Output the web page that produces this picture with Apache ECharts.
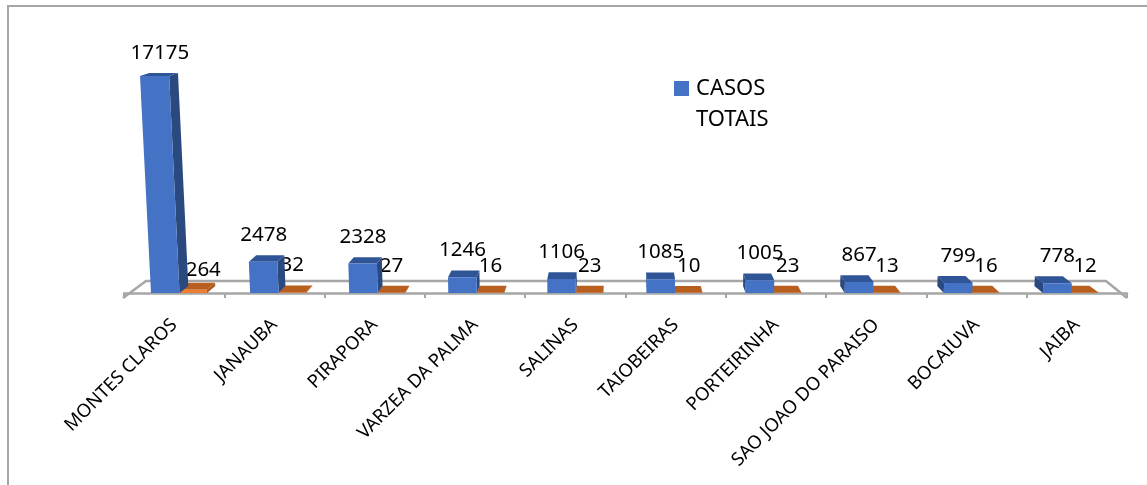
<!DOCTYPE html>
<html>
<head>
<meta charset="utf-8">
<style>
  html, body { margin: 0; padding: 0; background: #fff; }
  #main { width: 1147px; height: 485px; }
</style>
<script src="https://cdn.jsdelivr.net/npm/echarts@6/dist/echarts.min.js"></script>
</head>
<body>
<div id="main"></div>
<script>
var cidades = ['MONTES CLAROS', 'JANAUBA', 'PIRAPORA', 'VARZEA DA PALMA', 'SALINAS',
  'TAIOBEIRAS', 'PORTEIRINHA', 'SAO JOAO DO PARAISO', 'BOCAIUVA', 'JAIBA'];
var casosTotais = [17175, 2478, 2328, 1246, 1106, 1085, 1005, 867, 799, 778];
var segundaSerie = [264, 32, 27, 16, 23, 10, 23, 13, 16, 12];

var fonte = '"Noto Sans", sans-serif';
// ponto de fuga do falso 3D
var fugaX = 620;
var profundidade = 7;

function caixa(api, largura, lado, cores) {
  var topo = api.coord([api.value(0), api.value(1)]);
  var base = api.coord([api.value(0), 0]);
  var centro = fugaX + (base[0] - fugaX) * 0.988;
  var x0 = lado < 0 ? centro - largura : centro;
  var x1 = x0 + largura;
  var h = base[1] - topo[1];
  var y0 = base[1];
  var y1 = topo[1];
  // quanto mais alta a barra, mais ela abre para fora
  var l0 = (x0 - fugaX) * h * 0.000108;
  var l1 = (x1 - fugaX) * h * 0.000108;
  var dy = profundidade - h * 4 / 217;
  var dx0 = (fugaX - x0) * 0.02;
  var dx1 = (fugaX - x1) * 0.02;
  var filhos = [];
  // lateral
  if (dx0 + dx1 > 0) {
    filhos.push({ type: 'polygon', shape: { points: [[x1, y0], [x1 + dx1, y0 - profundidade], [x1 + l1 + dx1, y1 - dy], [x1 + l1, y1]] }, style: { fill: cores.lado } });
  } else {
    filhos.push({ type: 'polygon', shape: { points: [[x0, y0], [x0 + dx0, y0 - profundidade], [x0 + l0 + dx0, y1 - dy], [x0 + l0, y1]] }, style: { fill: cores.lado } });
  }
  // topo
  filhos.push({ type: 'polygon', shape: { points: [[x0 + l0, y1], [x1 + l1, y1], [x1 + l1 + dx1, y1 - dy], [x0 + l0 + dx0, y1 - dy]] }, style: { fill: cores.topo } });
  // frente
  filhos.push({ type: 'polygon', shape: { points: [[x0 + l0, y1], [x1 + l1, y1], [x1, y0], [x0, y0]] }, style: { fill: cores.frente } });
  return { filhos: filhos, cx: (x0 + x1) / 2, topoY: y1 - dy, lean: (l0 + l1) / 2 };
}

function rotulo(x, y, valor) {
  return {
    type: 'text',
    style: { x: x, y: y, text: String(valor), fill: '#000', font: '20.5px ' + fonte, textAlign: 'center', textVerticalAlign: 'middle' }
  };
}

function desenhaAzul(params, api) {
  var c = caixa(api, 28.5, -1, { frente: '#4472C4', lado: '#2A4A7F', topo: '#2F5597' });
  c.filhos.push(rotulo(c.cx + c.lean / 2, c.topoY - 20, api.value(1)));
  return { type: 'group', children: c.filhos };
}

function desenhaLaranja(params, api) {
  var c = caixa(api, 27.5, 1, { frente: '#ED7D31', lado: '#A9561E', topo: '#B85F20' });
  // o rotulo 264 foi afastado da barra no original
  var grande = api.value(1) > 100;
  c.filhos.push(rotulo(c.cx + (grande ? 10 : 0), c.topoY - 20 + (grande ? 7 : 0), api.value(1)));
  return { type: 'group', children: c.filhos };
}

function pares(valores) {
  return valores.map(function (v, i) { return [i, v]; });
}

var chart = echarts.init(document.getElementById('main'));
chart.setOption({
  animation: false,
  backgroundColor: '#fff',
  grid: { left: 124, right: 20, top: 40.3, bottom: 192 },
  legend: {
    data: ['CASOS\nTOTAIS'],
    left: 669,
    top: 68,
    itemWidth: 15,
    itemHeight: 46,
    itemGap: 0,
    icon: 'path://M0 0H15V15H0Z M0 46H0Z',
    selectedMode: false,
    textStyle: { color: '#000', fontFamily: fonte, fontSize: 22, lineHeight: 31, padding: [0, 0, 0, 2] }
  },
  xAxis: {
    type: 'category',
    data: cidades,
    offset: 5,
    boundaryGap: true,
    axisLine: { lineStyle: { color: '#A6A6A6', width: 2.5 } },
    axisTick: { show: true, length: 5, alignWithLabel: false, lineStyle: { color: '#A6A6A6', width: 2 } },
    axisLabel: { rotate: 45, interval: 0, margin: 24, color: '#000', fontFamily: fonte, fontSize: 18.5 }
  },
  yAxis: { type: 'value', min: 0, max: 20000, show: false, splitLine: { show: false } },
  graphic: [
    { type: 'polyline', z: 0, shape: { points: [[123, 298], [146, 281], [1106, 281], [1127, 298]] }, style: { stroke: '#A6A6A6', lineWidth: 2.5, fill: 'none' } },
    { type: 'polyline', z: 0, shape: { points: [[8, 485], [8, 6], [1147, 6]] }, style: { stroke: '#A6A6A6', lineWidth: 2, fill: 'none' } }
  ],
  series: [
    {
      name: '',
      type: 'custom',
      z: 3,
      clip: false,
      renderItem: desenhaLaranja,
      encode: { x: 0, y: 1 },
      data: pares(segundaSerie)
    },
    {
      name: 'CASOS\nTOTAIS',
      type: 'custom',
      z: 4,
      clip: false,
      itemStyle: { color: '#4472C4' },
      renderItem: desenhaAzul,
      encode: { x: 0, y: 1 },
      data: pares(casosTotais)
    }
  ]
});
</script>
</body>
</html>
